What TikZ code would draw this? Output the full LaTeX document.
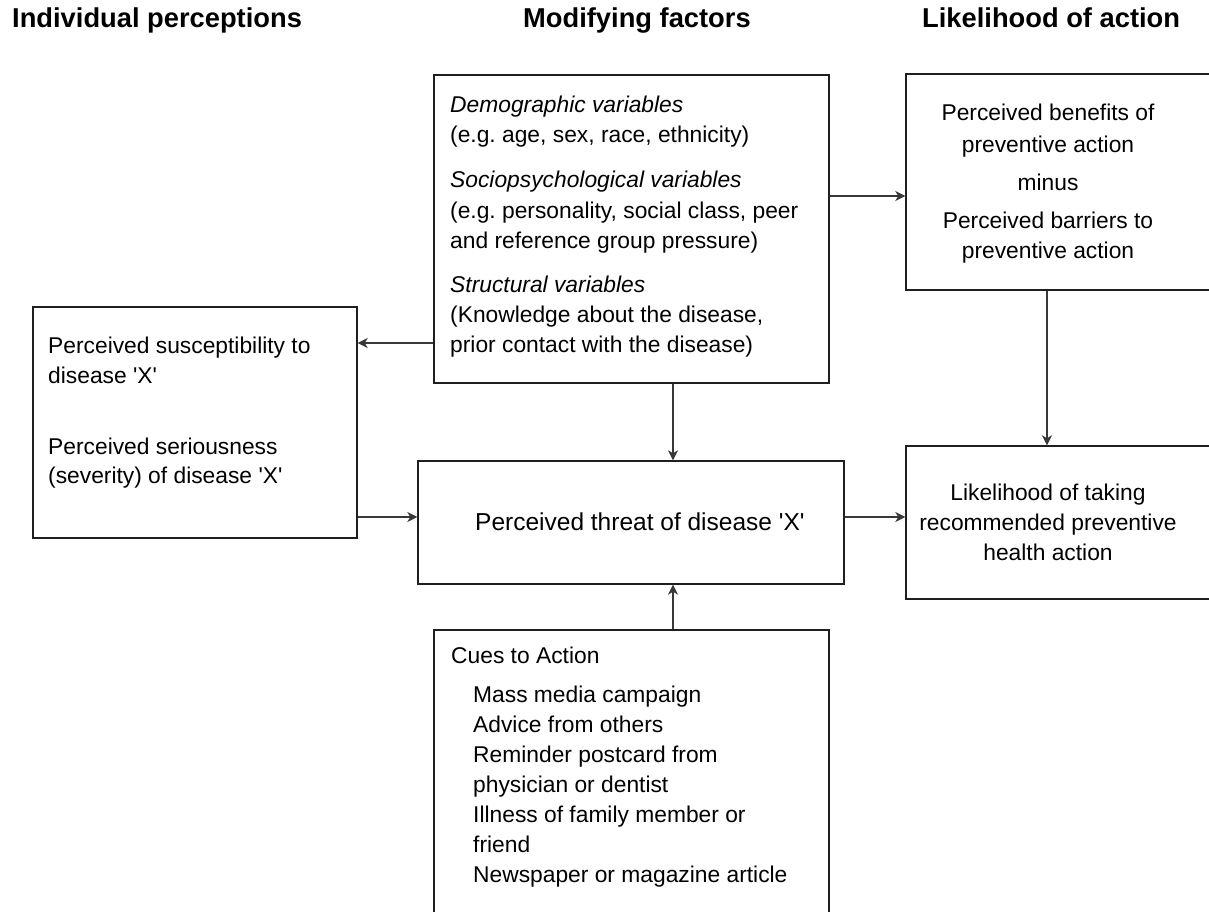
\documentclass[tikz,border=0pt]{standalone}
\usepackage{fontspec}
\setmainfont{Liberation Sans}
\usetikzlibrary{arrows.meta}
\frenchspacing
\newcommand{\mybody}{\fontsize{22.8}{27}\selectfont}
\newcommand{\mythreat}{\fontsize{24.5}{29}\selectfont}
\newcommand{\myhead}{\fontsize{27.3}{32}\selectfont\bfseries}
\newcommand{\sq}{\textquotesingle}
\begin{document}
\begin{tikzpicture}[x=1pt,y=-1pt,
  box/.style={draw=black!88, line width=1.4pt, inner sep=0pt},
  arr/.style={draw=black!78, line width=1.3pt, -{Stealth[length=10pt,width=10pt,inset=3pt]}},
  txt/.style={inner sep=0pt, anchor=base west, font=\mybody},
  ctxt/.style={inner sep=0pt, anchor=base, font=\mybody},
  head/.style={inner sep=0pt, anchor=base west, font=\myhead}]
\useasboundingbox (0,0) rectangle (1209,912);
\clip (0,0) rectangle (1209,912);
\fill[white] (0,0) rectangle (1209,912);

% headers
\node[head] (h1) at (12,28) {Individual perceptions};
\node[head] (h2) at (523,28) {Modifying factors};
\node[head] (h3) at (922,28) {Likelihood of action};

% boxes
\node[box, minimum width=395pt, minimum height=308pt] (demo) at (631.5,229) {};
\node[box, minimum width=324pt, minimum height=216pt] (ben) at (1068,182) {};
\node[box, minimum width=324pt, minimum height=231pt] (left) at (195,422.5) {};
\node[box, minimum width=426pt, minimum height=123pt] (threat) at (631,522.5) {};
\node[box, minimum width=324pt, minimum height=153pt] (lik) at (1068,522.5) {};
\node[box, minimum width=395pt, minimum height=310pt] (cues) at (631.5,785) {};

% demo text
\node[txt] (d1) at (450,113) {\itshape Demographic variables};
\node[txt] (d2) at (450,143) {(e.g. age, sex, race, ethnicity)};
\node[txt] (d3) at (450,188) {\itshape Sociopsychological variables};
\node[txt] (d4) at (450,218) {(e.g. personality, social class, peer};
\node[txt] (d5) at (450,248) {and reference group pressure)};
\node[txt] (d6) at (450,292) {\itshape Structural variables};
\node[txt] (d7) at (450,322) {(Knowledge about the disease,};
\node[txt] (d8) at (450,352) {prior contact with the disease)};

% benefits text
\node[ctxt] (b1) at (1048,121) {Perceived benefits of};
\node[ctxt] (b2) at (1048,153) {preventive action};
\node[ctxt] (b3) at (1048,190) {minus};
\node[ctxt] (b4) at (1048,228) {Perceived barriers to};
\node[ctxt] (b5) at (1048,258) {preventive action};

% left text
\node[txt] (l1) at (48,353) {Perceived susceptibility to};
\node[txt] (l2) at (48,383) {disease \sq X\sq};
\node[txt] (l3) at (48,454) {Perceived seriousness};
\node[txt] (l4) at (48,483) {(severity) of disease \sq X\sq};

% threat text
\node[txt, font=\mythreat] (t1) at (475,530) {Perceived threat of disease \sq X\sq};

% likelihood text
\node[ctxt] (k1) at (1048,500) {Likelihood of taking};
\node[ctxt] (k2) at (1048,530) {recommended preventive};
\node[ctxt] (k3) at (1048,560) {health action};

% cues text
\node[txt] (c0) at (451,663) {Cues to Action};
\node[txt] (c1) at (473,702) {Mass media campaign};
\node[txt] (c2) at (473,732) {Advice from others};
\node[txt] (c3) at (473,762) {Reminder postcard from};
\node[txt] (c4) at (473,792) {physician or dentist};
\node[txt] (c5) at (473,822) {Illness of family member or};
\node[txt] (c6) at (473,852) {friend};
\node[txt] (c7) at (473,882) {Newspaper or magazine article};

% connector guides
\coordinate (vx) at (673,0);
\coordinate (vx2) at (1047,0);
\coordinate (hy1) at (0,196);
\coordinate (hy2) at (0,343);
\coordinate (hy3) at (0,517);

\draw[arr] (demo.east |- hy1) -- (ben.west |- hy1);
\draw[arr] (demo.west |- hy2) -- (left.east |- hy2);
\draw[arr] (left.east |- hy3) -- (threat.west |- hy3);
\draw[arr] (threat.east |- hy3) -- (lik.west |- hy3);
\draw[arr] (demo.south -| vx) -- (threat.north -| vx);
\draw[arr] (cues.north -| vx) -- (threat.south -| vx);
\draw[arr] (ben.south -| vx2) -- (lik.north -| vx2);
\end{tikzpicture}
\end{document}
